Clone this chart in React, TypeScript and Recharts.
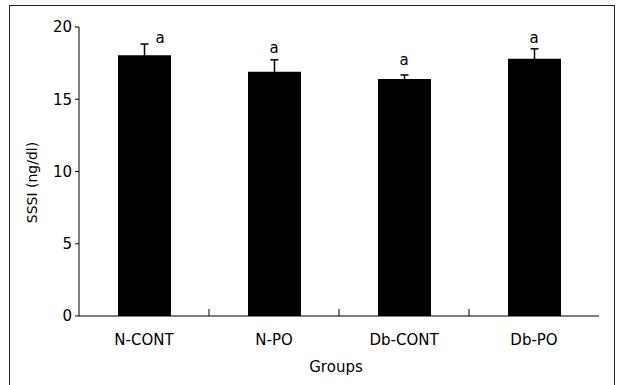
import React from 'react';
import {
  ComposedChart,
  Bar,
  Line,
  XAxis,
  YAxis,
  ErrorBar,
  LabelList,
} from 'recharts';

const groups = ['N-CONT', 'N-PO', 'Db-CONT', 'Db-PO'];
const means = [18.05, 16.9, 16.4, 17.8];
const sems = [0.77, 0.83, 0.28, 0.69];
const sigLetters = ['a', 'a', 'a', 'a'];
const sigLabelAt = [19.25, 18.55, 17.7, 19.25];
const yTicks = [0, 5, 10, 15, 20];

const data = groups.map((group, i) => ({
  group,
  mean: means[i],
  sem: sems[i],
  sig: sigLetters[i],
  sigAt: sigLabelAt[i],
}));

const FONT = '"DejaVu Sans", sans-serif';
const axisStroke = { stroke: '#000', strokeWidth: 1 };

const CHART_W = 617;
const CHART_H = 385;
const MARGIN = { top: 27, right: 18, left: 19, bottom: 39 };
const Y_AXIS_W = 60;
const PLOT_W = CHART_W - MARGIN.left - MARGIN.right - Y_AXIS_W;
const X_TICK_GAP = 18; // tickSize + tickMargin on the category axis

const renderSig = (props: any) => {
  const { x, y, value, index } = props;
  return (
    <text
      x={x + (index === 0 ? 16 : 0)}
      y={y}
      textAnchor="middle"
      dominantBaseline="central"
      fontFamily={FONT}
      fontSize={15}
      fill="#000"
    >
      {value}
    </text>
  );
};

// category label plus the small upward tick between neighbouring groups
const GroupTick = (props: any) => {
  const { x, y, payload } = props;
  const idx = groups.indexOf(payload.value);
  const half = PLOT_W / groups.length / 2;
  const axisY = y - X_TICK_GAP;
  return (
    <g>
      <text
        x={x}
        y={y}
        dy="0.71em"
        textAnchor="middle"
        fontFamily={FONT}
        fontSize={15}
        fill="#000"
      >
        {payload.value}
      </text>
      {idx >= 0 && idx < groups.length - 1 && (
        <line
          x1={x + half}
          x2={x + half}
          y1={axisY}
          y2={axisY - 7}
          stroke="#000"
          strokeWidth={1}
        />
      )}
    </g>
  );
};

const YLabel = (props: any) => {
  const { viewBox } = props;
  const cx = viewBox.x + 13;
  const cy = viewBox.y + viewBox.height / 2 + 11;
  return (
    <text
      x={cx}
      y={cy}
      transform={`rotate(-90 ${cx} ${cy})`}
      textAnchor="middle"
      dominantBaseline="central"
      fontFamily={FONT}
      fontSize={14}
      fill="#000"
    >
      SSSI (ng/dl)
    </text>
  );
};

const XLabel = (props: any) => {
  const { viewBox } = props;
  return (
    <text
      x={viewBox.x + viewBox.width / 2 - 3}
      y={viewBox.y + 51}
      textAnchor="middle"
      dominantBaseline="central"
      fontFamily={FONT}
      fontSize={15}
      fill="#000"
    >
      Groups
    </text>
  );
};

export default function App() {
  return (
    <div
      style={{
        position: 'absolute',
        left: 0,
        top: 0,
        width: CHART_W,
        height: CHART_H,
        overflow: 'hidden',
        background: '#fff',
      }}
    >
      <div
        style={{
          position: 'absolute',
          left: 9,
          top: 5,
          width: 604,
          height: 420,
          border: '1.5px solid #222',
        }}
      />
      <ComposedChart
        width={CHART_W}
        height={CHART_H}
        data={data}
        margin={MARGIN}
        style={{ position: 'absolute', left: 0, top: 0 }}
      >
        <XAxis
          dataKey="group"
          axisLine={axisStroke}
          tickLine={false}
          tickSize={6}
          tickMargin={X_TICK_GAP - 6}
          height={30}
          tick={<GroupTick />}
          label={<XLabel />}
        />
        <XAxis
          xAxisId="top"
          dataKey="group"
          orientation="top"
          height={0}
          tick={false}
          tickLine={false}
          axisLine={axisStroke}
        />
        <YAxis
          domain={[0, 20]}
          ticks={yTicks}
          width={Y_AXIS_W}
          axisLine={axisStroke}
          tickLine={axisStroke}
          tickSize={4}
          tickMargin={3}
          tick={{ fill: '#000', fontSize: 15, fontFamily: FONT }}
          label={<YLabel />}
        />
        <YAxis
          yAxisId="right"
          orientation="right"
          domain={[0, 20]}
          width={0}
          tick={false}
          tickLine={false}
          axisLine={axisStroke}
        />
        <Bar dataKey="mean" fill="#000" barSize={53} isAnimationActive={false}>
          <ErrorBar dataKey="sem" stroke="#000" strokeWidth={1.5} width={4} />
        </Bar>
        <Line
          dataKey="sigAt"
          stroke="none"
          dot={false}
          activeDot={false}
          isAnimationActive={false}
        >
          <LabelList dataKey="sig" content={renderSig} />
        </Line>
      </ComposedChart>
    </div>
  );
}
